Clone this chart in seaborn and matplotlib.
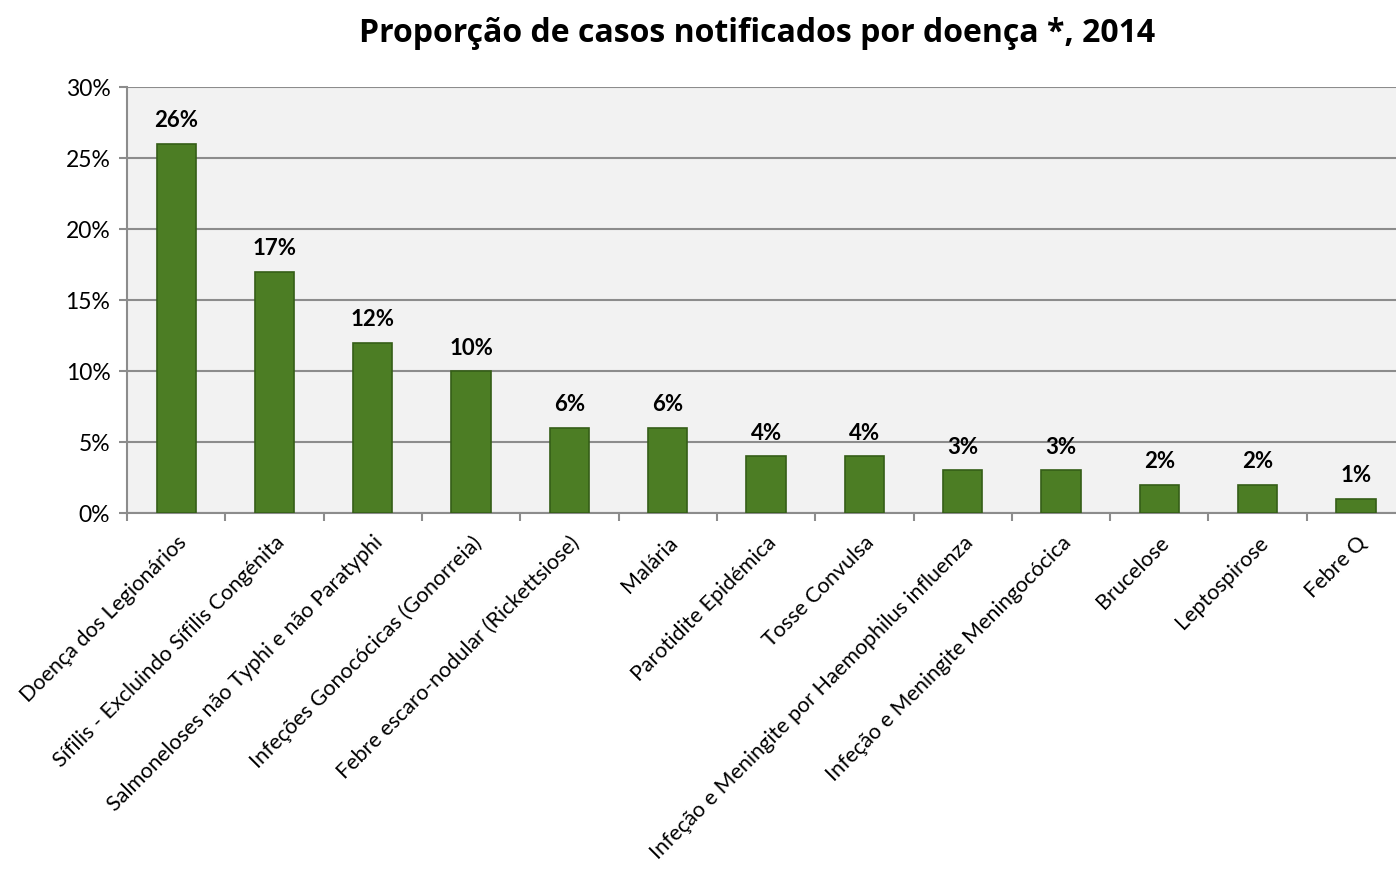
import matplotlib
matplotlib.use("Agg")
import matplotlib.pyplot as plt
import seaborn as sns
import pandas as pd
from matplotlib.ticker import FuncFormatter

doencas = [
    "Doença dos Legionários",
    "Sífilis - Excluindo Sífilis Congénita",
    "Salmoneloses não Typhi e não Paratyphi",
    "Infeções Gonocócicas (Gonorreia)",
    "Febre escaro-nodular (Rickettsiose)",
    "Malária",
    "Parotidite Epidémica",
    "Tosse Convulsa",
    "Infeção e Meningite por Haemophilus influenza",
    "Infeção e Meningite Meningocócica",
    "Brucelose",
    "Leptospirose",
    "Febre Q",
]
proporcao = [26, 17, 12, 10, 6, 6, 4, 4, 3, 3, 2, 2, 1]

df = pd.DataFrame({"doenca": doencas, "pct": proporcao})

sns.set_theme(style="white")
plt.rcParams['font.family'] = ['Lato', 'DejaVu Sans']
plt.rcParams['text.color'] = 'black'
plt.rcParams['xtick.color'] = 'black'
plt.rcParams['ytick.color'] = 'black'

fig = plt.figure(figsize=(13.96, 8.71), dpi=100)
ax = fig.add_axes([0.091, 0.411, 0.9155, 0.489])
ax.set_facecolor('#f2f2f2')

sns.barplot(data=df, x="doenca", y="pct", color='#4c7d24', edgecolor='#355e17',
            linewidth=1.2, width=0.4, saturation=1, ax=ax, zorder=3)

ax.set_xlim(-0.5, len(doencas) - 0.5)
ax.set_ylim(0, 30)
ax.set_yticks(range(0, 31, 5))
ax.yaxis.set_major_formatter(FuncFormatter(lambda v, p: f"{int(v)}%"))
ax.yaxis.grid(True, color='#8c8c8c', linewidth=1.5, zorder=0)
ax.set_axisbelow(True)

for bar, v in zip(ax.patches, proporcao):
    ax.annotate(f"{v}%", (bar.get_x() + bar.get_width() / 2, bar.get_height()),
                xytext=(0, 9), textcoords='offset points', ha='center', va='bottom',
                fontsize=16, fontweight='bold', color='black')

ax.set_xticks(range(len(doencas)))
ax.set_xticklabels(doencas, rotation=45, ha='right', rotation_mode='anchor', fontsize=15.5)
ax.set_xticks([i - 0.5 for i in range(len(doencas) + 1)], minor=True)
ax.tick_params(axis='x', which='major', length=0, pad=14)
ax.tick_params(axis='x', which='minor', length=6, color='#8c8c8c', width=1.5, direction='out')
ax.tick_params(axis='y', length=6, color='#8c8c8c', width=1.5, direction='out',
               labelsize=16.5, pad=6, labelcolor='black')
ax.xaxis.set_tick_params(which='minor', bottom=True)
ax.yaxis.set_tick_params(left=True)

for s in ['top', 'right']:
    ax.spines[s].set_visible(False)
for s in ['left', 'bottom']:
    ax.spines[s].set_color('#8c8c8c')
    ax.spines[s].set_linewidth(1.5)

ax.set_xlabel("")
ax.set_ylabel("")
fig.text(0.5425, 0.961, "Proporção de casos notificados por doença *, 2014",
         ha='center', va='center', fontsize=23, fontweight='bold', color='black',
         family=['Open Sans', 'DejaVu Sans'])

fig.savefig("out.png", dpi=100)
